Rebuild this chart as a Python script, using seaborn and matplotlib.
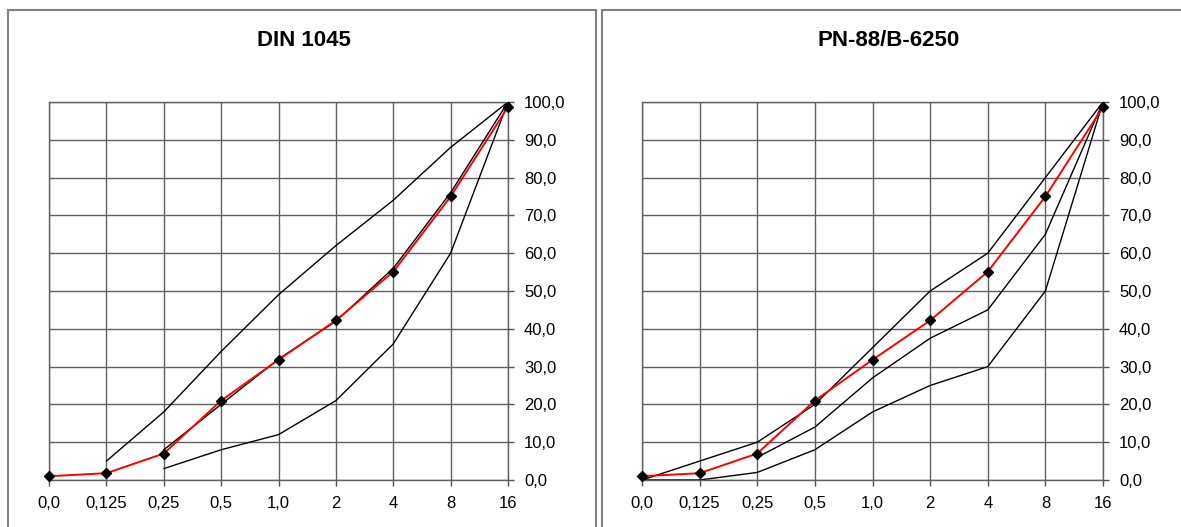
import numpy as np
import matplotlib
matplotlib.use('Agg')
import matplotlib.pyplot as plt
from matplotlib.patches import Rectangle
from matplotlib.ticker import FuncFormatter
import seaborn as sns

# sieve sizes (categorical x axis)
sieves = ['0,0', '0,125', '0,25', '0,5', '1,0', '2', '4', '8', '16']

# measured grading curve (same in both panels)
sample = [1.0, 1.8, 7.0, 21.0, 31.8, 42.2, 55.1, 75.0, 98.7]

# DIN 1045 limit curves (A16 / B16 / C16)
din_c = [np.nan, 5, 18, 34, 49, 62, 74, 88, 100]
din_b = [np.nan, np.nan, 8, 20, 32, 42, 56, 76, 100]
din_a = [np.nan, np.nan, 3, 8, 12, 21, 36, 60, 100]

# PN-88/B-6250 limit curves
pn_upper = [0, 5, 10, 20, 35, 50, 60, 80, 100]
pn_mid = [np.nan, np.nan, 6, 14, 27, 37.5, 45, 65, 100]
pn_lower = [0, 0, 2, 8, 18, 25, 30, 50, 100]

W, H = 1181, 527


def draw_panel(ax, limits):
    """
    Draws one grading chart: limit curves in black, sample in red with diamonds
    """
    pos = np.arange(len(sieves))
    for lim in limits:
        lim = np.asarray(lim, dtype=float)
        ok = ~np.isnan(lim)
        sns.lineplot(x=pos[ok], y=lim[ok], ax=ax, color='k', linewidth=1.0)
    sns.lineplot(x=pos, y=sample, ax=ax, color='#ff0000', linewidth=1.4)
    ax.plot(pos, sample, linestyle='none', marker='D', color='k', ms=5.5, clip_on=False, zorder=5)
    ax.set_xlim(0, len(sieves) - 1)
    ax.set_ylim(0, 100)
    ax.set_xticks(pos)
    ax.set_xticklabels(sieves)
    ax.set_yticks(np.arange(0, 101, 10))
    ax.yaxis.set_major_formatter(FuncFormatter(lambda v, p: ('%.1f' % v).replace('.', ',')))
    ax.yaxis.tick_right()
    ax.tick_params(axis='both', which='both', length=4.5, width=1.0, color='#505050',
                   labelsize=12, labelcolor='k', direction='out', bottom=True, right=True, left=False)
    ax.tick_params(axis='y', pad=7)
    ax.tick_params(axis='x', pad=7)
    ax.grid(True, color='#606060', linewidth=1.0)
    for s in ax.spines.values():
        s.set_color('#606060')
        s.set_linewidth(1.0)
    ax.set_xlabel('')
    ax.set_ylabel('')


sns.set_style('white')
plt.rcParams['font.family'] = ['Liberation Sans', 'DejaVu Sans']
plt.rcParams['text.color'] = 'k'

fig = plt.figure(figsize=(W / 100, H / 100), dpi=100)

# chart frames
fig.patches.append(Rectangle((8 / W, -0.1), (596 - 8) / W, 1.1 - 10 / H, transform=fig.transFigure,
                             fill=False, edgecolor='#808080', linewidth=1.5))
fig.patches.append(Rectangle((602 / W, -0.1), 0.6, 1.1 - 10 / H, transform=fig.transFigure,
                             fill=False, edgecolor='#808080', linewidth=1.5))

ax1 = fig.add_axes([49 / W, 1 - 480 / H, (508 - 49) / W, (480 - 102) / H])
ax2 = fig.add_axes([642 / W, 1 - 480 / H, (1103 - 642) / W, (480 - 102) / H])

draw_panel(ax1, [din_c, din_b, din_a])
draw_panel(ax2, [pn_upper, pn_mid, pn_lower])

fig.text(304 / W, 1 - 40 / H, 'DIN 1045', ha='center', va='center', fontsize=16, fontweight='bold')
fig.text(889 / W, 1 - 40 / H, 'PN-88/B-6250', ha='center', va='center', fontsize=16, fontweight='bold')

fig.savefig('out.png', dpi=100)
